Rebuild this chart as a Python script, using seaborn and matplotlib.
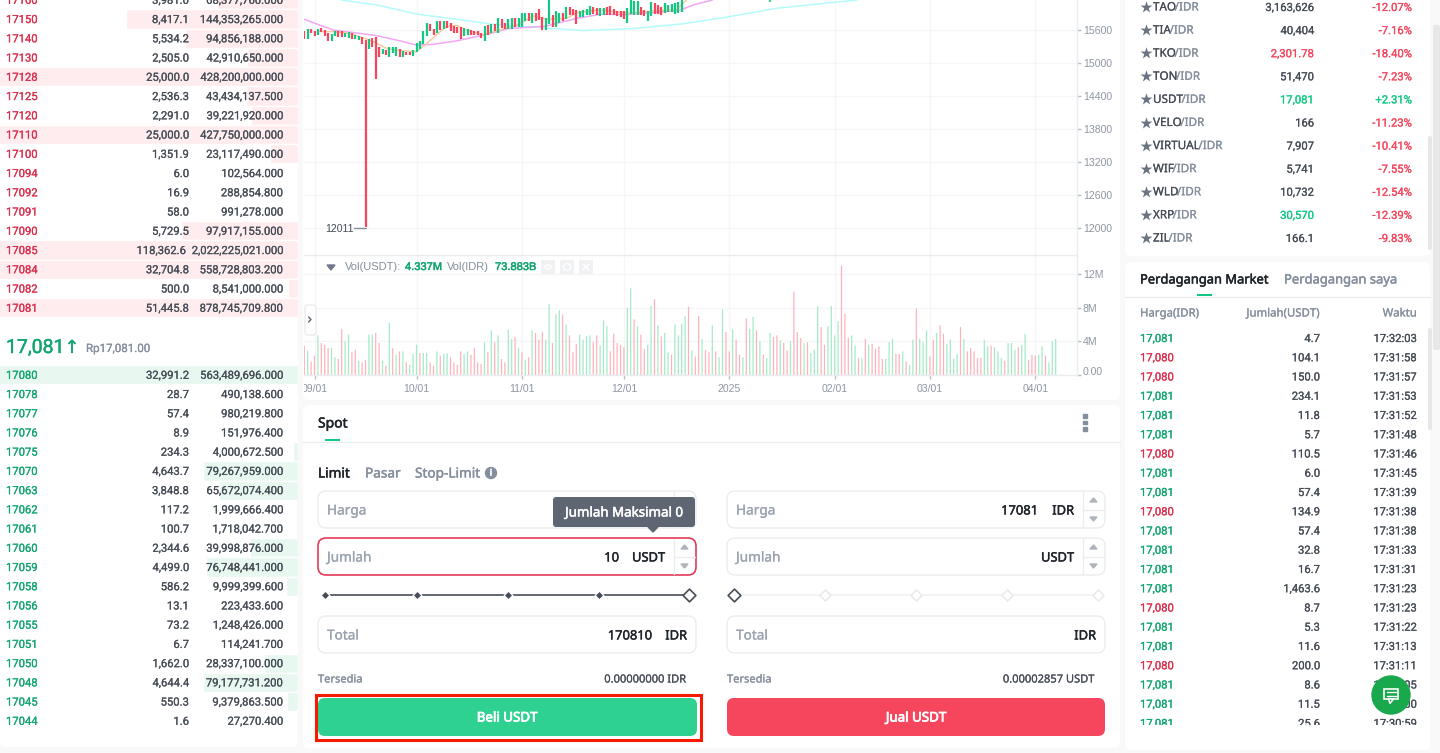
import matplotlib
matplotlib.use("Agg")
import matplotlib.pyplot as plt
import matplotlib.patheffects as pe
from matplotlib.patches import FancyBboxPatch, Rectangle, Circle, Polygon
from matplotlib.transforms import Bbox
import pandas as pd
import seaborn as sns

W, H = 1440, 753

# --- order book ---
ask_prices = [17160, 17150, 17140, 17130, 17128, 17125, 17120, 17110, 17100, 17094, 17092, 17091, 17090, 17085, 17084, 17082, 17081]
ask_qty = [3981.0, 8417.1, 5534.2, 2505.0, 25000.0, 2536.3, 2291.0, 25000.0, 1351.9, 6.0, 16.9, 58.0, 5729.5, 118362.6, 32704.8, 500.0, 51445.8]
ask_total = ["68,377,760.000", "144,353,265.000", "94,856,188.000", "42,910,650.000", "428,200,000.000", "43,434,137.500", "39,221,920.000", "427,750,000.000", "23,117,490.000", "102,564.000", "288,854.800", "991,278.000", "97,917,155.000", "2,022,225,021.000", "558,728,803.200", "8,541,000.000", "878,745,709.800"]
bid_prices = [17080, 17078, 17077, 17076, 17075, 17070, 17063, 17062, 17061, 17060, 17059, 17058, 17056, 17055, 17051, 17050, 17048, 17045, 17044]
bid_qty = [32991.2, 28.7, 57.4, 8.9, 234.3, 4643.7, 3848.8, 117.2, 100.7, 2344.6, 4499.0, 586.2, 13.1, 73.2, 6.7, 1662.0, 4644.4, 550.3, 1.6]
bid_total = ["563,489,696.000", "490,138.600", "980,219.800", "151,976.400", "4,000,672.500", "79,267,959.000", "65,672,074.400", "1,999,666.400", "1,718,042.700", "39,998,876.000", "76,748,441.000", "9,999,399.600", "223,433.600", "1,248,426.000", "114,241.700", "28,337,100.000", "79,177,731.200", "9,379,863.500", "27,270.400"]

# --- candles (daily, day 0 = 2024-08-29), only the part inside the view ---
candle_high = [15590, 15610, 15620, 15590, 15610, 15635, 15600, 15540, 15520, 15590,
               15580, 15575, 15540, 15565, 15540, 15515, 15490, 15480, 15420, 15430,
               15455, 15465, 15295, 15250, 15235, 15295, 15285, 15295, 15260, 15225,
               15205, 15205, 15235, 15370, 15405, 15575, 15720, 15710, 15625, 15770,
               15770, 15770, 15770, 15735, 15670, 15660, 15650, 15635, 15610, 15600,
               15590, 15575, 15540, 15670, 15685, 15710, 15710, 15820, 15805, 15735,
               15795, 15820, 15820, 15820, 15915, 15915, 15915, 15905, 15915, 15990,
               15830, 15810, 16200, 15865, 15950, 15915, 15915, 16025, 16025, 15975,
               15965, 15940, 15965, 15990, 16035, 16010, 16000, 16000, 16000, 16010,
               16035, 15990, 15950, 15950, 15940, 16000, 16200, 16120, 16120, 16025,
               15965, 15950, 16110, 16085, 16060, 16025, 16085, 16060, 16075, 16085,
               16110, 16200]
candle_low = [15430, 15440, 15540, 15490, 15515, 15565, 15490, 15405, 15405, 15490,
              15480, 15480, 15480, 15455, 15440, 15430, 15420, 15345, 12011, 15250,
              15295, 14700, 15105, 15165, 15150, 15115, 15175, 15125, 15115, 15115,
              15140, 15145, 15125, 15200, 15260, 15345, 15490, 15575, 15500, 15540,
              15600, 15610, 15635, 15575, 15540, 15540, 15440, 15490, 15500, 15515,
              15500, 15500, 15455, 15405, 15515, 15540, 15590, 15540, 15635, 15610,
              15625, 15625, 15650, 15650, 15660, 15755, 15770, 15720, 15770, 15780,
              15600, 15600, 15710, 15660, 15660, 15720, 15770, 15805, 15880, 15865,
              15710, 15830, 15840, 15865, 15880, 15890, 15865, 15855, 15865, 15880,
              15880, 15865, 15855, 15830, 15805, 15735, 15890, 15865, 15865, 15880,
              15855, 15755, 15855, 15890, 15890, 15880, 15915, 15930, 15930, 15890,
              15915, 15930]
candle_side = list("rgrrgrrrgg" "rrggrggrrg" "rrrgrgggrg" "rrgggggrrg"
                   "rgrrrrrggr" "rrrgrgrgrr" "ggrgggrgrr" "rggrggrgrr"
                   "rggggrrggr" "rrrrrggggr" "rggrrrgggg" "gg")
# tip of one January candle that pokes in at the top of the view
tip_day, tip_low, tip_high = 137, 16105, 16300

# --- moving averages ---
ma_magenta_day = [0, 3.6, 8.5, 21, 28, 33, 38, 45, 54, 60, 71, 80, 87, 95, 102, 110, 114.5, 120]
ma_magenta = [15795, 15710, 15600, 15500, 15405, 15325, 15340, 15405, 15525, 15625, 15670, 15810, 15885, 15880, 15915, 15950, 16055, 16145]
ma_cyan_day = [11, 21.3, 33, 44.8, 54.6, 67.4, 82, 96.7, 111, 122, 139, 162.5]
ma_cyan = [16145, 16055, 15890, 15795, 15710, 15650, 15590, 15625, 15710, 15810, 15995, 16145]
ma_orange_day = [4.6, 8.5, 13.4, 20.3, 24.2, 28, 33, 36, 40, 41.9, 44.8, 47.7, 52.6, 57.5, 62.5, 67.4, 71.3, 77.2, 80.1, 87, 94.8, 101.7, 109.5, 112.4]
ma_orange = [15570, 15570, 15540, 15390, 15265, 15225, 15205, 15355, 15570, 15670, 15685, 15600, 15510, 15600, 15690, 15855, 15795, 15810, 15915, 15965, 15905, 15940, 15975, 16145]

# --- volume (millions of USDT, daily) ---
volume = [3.5, 2.9, 1.6, 2.3, 4.7, 3.8, 3.6, 3.2, 3.2, 2.1,
          1.9, 5.5, 4.0, 4.8, 2.7, 3.0, 1.7, 1.5, 1.8, 4.8,
          4.8, 5.0, 3.8, 1.7, 1.1, 6.2, 3.2, 2.4, 2.8, 2.8,
          1.5, 1.2, 2.5, 3.6, 2.6, 2.6, 2.6, 1.5, 1.1, 2.8,
          2.3, 2.5, 2.6, 2.1, 1.5, 1.2, 2.8, 2.5, 2.8, 2.4,
          3.2, 1.5, 1.3, 3.9, 2.7, 5.3, 3.9, 4.7, 1.9, 1.5,
          5.4, 4.3, 4.5, 3.2, 2.7, 1.8, 2.1, 5.3, 5.0, 4.2,
          5.1, 4.2, 8.4, 3.8, 7.2, 7.7, 7.2, 6.0, 4.7, 2.7,
          3.7, 4.8, 4.2, 4.6, 4.7, 3.9, 4.7, 3.5, 6.5, 5.8,
          2.8, 4.9, 3.8, 3.6, 3.3, 8.0, 10.3, 6.6, 5.8, 4.8,
          3.1, 3.6, 8.2, 9.0, 5.9, 4.6, 5.0, 2.7, 2.4, 6.0,
          4.7, 6.1, 7.0, 8.1, 2.9, 2.2, 7.0,
          4.3, 3.0, 2.7, 5.9, 2.8, 2.1, 7.8, 5.1, 2.8, 5.4,
          4.2, 2.4, 2.1, 6.7, 5.5, 6.9, 5.3, 4.0, 2.4, 2.0,
          5.0, 4.5, 4.7, 4.1, 3.8, 2.9, 4.0, 9.9, 5.1, 4.4,
          3.8, 3.9, 2.6, 3.0, 8.2, 5.7, 3.6, 5.8, 8.2, 4.7,
          6.4, 13.0, 7.3, 4.4, 4.7, 3.5, 2.0, 2.0, 4.3, 3.6,
          3.7, 3.1, 3.4, 1.9, 1.9, 3.9, 4.3, 2.5, 2.5, 2.8,
          1.6, 1.2, 4.2, 7.9, 4.3, 3.9, 5.3, 2.2, 4.2, 5.0,
          5.9, 4.9, 3.7, 4.2, 1.9, 2.5, 5.7, 4.3, 2.8, 3.2,
          2.8, 2.0, 2.0, 4.2, 3.4, 3.5, 3.3, 2.8, 2.0, 1.7,
          3.8, 3.8, 3.0, 3.3, 3.6, 4.9, 1.8, 2.4, 2.3, 2.4,
          3.4, 2.3, 1.5, 4.0, 4.3]
volume_side = list("rgrrgrrrgg" "rrggrrgrrg" "grrgrgrgrg" "rgggrggrrg"
                   "rggrrrrggr" "rrrgrgrgrr" "ggrgrgrgrr" "rggrggrgrr"
                   "rggggrrggg" "rrrrrggrgr" "rggrgrggrg" "gggrgrr"
                   "grrgrggrrg" "rrgrggrgrg" "grrgrrgrrr" "grgggrrggg"
                   "grrrggrgrg" "rrrrgggrrg" "rggrgggrrg" "rrggggrgrr"
                   "rrrggrgggr" "gggrggrrrg" "grggg")

date_days = [3, 33, 64, 94, 125, 156, 184, 215]
date_labels = ["09/01", "10/01", "11/01", "12/01", "2025", "02/01", "03/01", "04/01"]
price_ticks = [12000, 12600, 13200, 13800, 14400, 15000, 15600]
price_top_tick = 16200
vol_ticks = [0, 4, 8, 12]
vol_tick_labels = ["", "4M", "8M", "12M"]

# --- market list ---
pair_base = ["TAO", "TIA", "TKO", "TON", "USDT", "VELO", "VIRTUAL", "WIF", "WLD", "XRP", "ZIL"]
pair_price = ["3,163,626", "40,404", "2,301.78", "51,470", "17,081", "166", "7,907", "5,741", "10,732", "30,570", "166.1"]
pair_price_side = ["n", "n", "r", "n", "g", "n", "n", "n", "n", "g", "n"]
pair_change = ["-12.07%", "-7.16%", "-18.40%", "-7.23%", "+2.31%", "-11.23%", "-10.41%", "-7.55%", "-12.54%", "-12.39%", "-9.83%"]

# --- trades ---
trade_price = ["17,081", "17,080", "17,080", "17,081", "17,081", "17,081", "17,080", "17,081", "17,081", "17,080", "17,081", "17,081", "17,081", "17,081", "17,080", "17,081", "17,081", "17,080", "17,081", "17,081", "17,081"]
trade_qty = ["4.7", "104.1", "150.0", "234.1", "11.8", "5.7", "110.5", "6.0", "57.4", "134.9", "57.4", "32.8", "16.7", "1,463.6", "8.7", "5.3", "11.6", "200.0", "8.6", "11.5", "25.6"]
trade_time = ["17:32:03", "17:31:58", "17:31:57", "17:31:53", "17:31:52", "17:31:48", "17:31:46", "17:31:45", "17:31:39", "17:31:38", "17:31:38", "17:31:33", "17:31:31", "17:31:23", "17:31:23", "17:31:22", "17:31:13", "17:31:11", "17:31:05", "17:31:00", "17:30:59"]

RED = "#F6465D"
GREEN = "#12C983"
BOOK_RED = "#D9304F"
BOOK_GREEN = "#12A56F"
INK = "#1E2329"
TEXT = "#474D57"
GREY = "#848E9C"
AXIS_TEXT = "#8F96A3"
LINE = "#EAECEF"
GRID = "#F6F6F8"
UI_FONT = "Noto Sans"
NUM_FONT = "Roboto"
AXIS_FONT = "Liberation Sans"


def px_axes(left, top, right, bottom, **kw):
    return fig.add_axes([left / W, 1 - bottom / H, (right - left) / W, (bottom - top) / H], **kw)


def overlay(zorder):
    ax = px_axes(0, 0, W, H, zorder=zorder)
    ax.set_xlim(0, W)
    ax.set_ylim(H, 0)
    ax.axis("off")
    ax.patch.set_visible(False)
    return ax


def box(ax, left, top, right, bottom, face="white", edge="none", radius=0, lw=1.0, **kw):
    if radius:
        style = f"round,pad=0,rounding_size={radius}"
    else:
        style = "square,pad=0"
    patch = FancyBboxPatch((left, top), right - left, bottom - top, boxstyle=style,
                           facecolor=face, edgecolor=edge, linewidth=lw, **kw)
    ax.add_patch(patch)
    return patch


def label(x, y, s, size=8.1, color=TEXT, ha="left", stroke=0.15, font=NUM_FONT, **kw):
    # the installed faces have no medium weight, a thin stroke of the text colour stands in for it
    if font == UI_FONT:
        y += 2
    elif font == NUM_FONT:
        y += 1
    t = front.text(x, y, s, fontsize=size, color=color, ha=ha, va="center", family=font, **kw)
    if stroke:
        t.set_path_effects([pe.withStroke(linewidth=stroke, foreground=color)])
    return t


def depth_axes(top, bottom, qty, color):
    ax = px_axes(0, top, 298, bottom, zorder=1)
    df = pd.DataFrame({"row": range(len(qty)), "qty": qty})
    sns.barplot(data=df, x="qty", y="row", orient="h", native_scale=True, width=1.0,
                color=color, saturation=1, ax=ax)
    ax.set_xlim(14600, 0)
    ax.set_ylim(len(qty) - 0.5, -0.5)
    ax.axis("off")
    return ax


sns.set_theme(style="white")
plt.rcParams["font.family"] = [NUM_FONT, "DejaVu Sans"]

fig = plt.figure(figsize=(W / 100, H / 100), dpi=100, facecolor="#F9F9F9")
back = overlay(0)
front = overlay(10)
renderer = fig.canvas.get_renderer()

# panels
box(back, 0, -10, 298, 747, radius=6)
box(back, 303, -10, 1120, 400, radius=6)
box(back, 303, 405, 1120, 748, radius=6)
box(back, 1125, -10, 1430, 256, radius=6)
box(back, 1125, 262, 1430, 750, radius=6)
box(back, 1433, 25, 1440, 350, face="#E8E8E8", radius=2)
box(back, 1428, 136, 1432, 250, face="#E6E6E6", radius=2)
box(back, 1428, 328, 1432, 430, face="#E6E6E6", radius=2)

# --- order book ---
row_h = 19.25
asks_ax = depth_axes(-0.2 - row_h / 2, 307.7 + row_h / 2, ask_qty, "#FFECEE")
bids_ax = depth_axes(374.8 - row_h / 2, 720.8 + row_h / 2, bid_qty, "#E8F8F1")
for i, price in enumerate(ask_prices):
    y = -0.2 + i * row_h
    qty_text = f"{ask_qty[i]:,.1f}"
    label(6, y, str(price), color=BOOK_RED)
    label(186 if len(qty_text) > 8 else 189, y, qty_text, ha="right")
    label(283, y, ask_total[i], ha="right")
for i, price in enumerate(bid_prices):
    y = 374.8 + i * (720.8 - 374.8) / 18
    label(6, y, str(price), color=BOOK_GREEN)
    label(189, y, f"{bid_qty[i]:,.1f}", ha="right")
    label(283, y, bid_total[i], ha="right")
label(6, 347, "17,081", size=14, color=BOOK_GREEN, stroke=0.3)
label(72, 348, "↑", size=13, color=BOOK_GREEN, ha="center", font="DejaVu Sans")
label(86, 347.5, "Rp17,081.00", size=8.3, color=GREY)

# --- price chart ---
chart_left = 304.3
day_px = 3.4
x_limits = ((304 - chart_left) / day_px, (1076.7 - chart_left) / day_px)
price_ax = px_axes(304, 0, 1076.7, 255.5, zorder=2)
price_ax.patch.set_visible(False)
colors = {"r": RED, "g": GREEN}
days = list(range(len(candle_high)))
price_ax.vlines(days, candle_low, candle_high, colors=[colors[s] for s in candle_side], linewidth=1.6, zorder=4, capstyle="butt")
price_ax.vlines([tip_day], [tip_low], [tip_high], colors=GREEN, linewidth=1.2, zorder=4)
sns.lineplot(x=ma_cyan_day, y=ma_cyan, color="#B5FBFB", linewidth=1.1, ax=price_ax, zorder=3)
sns.lineplot(x=ma_magenta_day, y=ma_magenta, color="#F3A6F5", linewidth=1.1, ax=price_ax, zorder=3)
sns.lineplot(x=ma_orange_day, y=ma_orange, color="#F9C79A", linewidth=1.0, ax=price_ax, zorder=3)

# --- volume chart ---
vol_ax = px_axes(304, 256, 1076.7, 375, zorder=2)
vol_ax.patch.set_visible(False)
vol_df = pd.DataFrame({"day": range(len(volume)), "vol": volume, "side": volume_side})
sns.barplot(data=vol_df, x="day", y="vol", hue="side", dodge=False, native_scale=True, width=0.36,
            palette={"r": "#FFB0BA", "g": "#A2EAC8"}, saturation=1, legend=False, ax=vol_ax)
for bar in vol_ax.patches:
    bar.set_snap(False)
    bar.set_linewidth(0)

for ax in (price_ax, vol_ax):
    ax.set_xlabel("")
    ax.set_ylabel("")
    ax.yaxis.tick_right()
    ax.set_xticks(date_days)
    ax.grid(True, color=GRID, linewidth=1.0)
    ax.set_axisbelow(True)
    for side in ("left", "top"):
        ax.spines[side].set_visible(False)
    for side in ("right", "bottom"):
        ax.spines[side].set_color(LINE)
        ax.spines[side].set_linewidth(1.0)
    ax.tick_params(axis="y", length=3, width=1, color="#B7BDC6", pad=1.5, labelsize=7.6, labelcolor=AXIS_TEXT, right=True)

price_ax.set_yticks(price_ticks)
price_ax.tick_params(axis="x", length=0, labelbottom=False)
price_ax.set_xlim(*x_limits)
price_ax.set_ylim(12000 + (228 - 255.5) * 18.18, 12000 + 228 * 18.18)
vol_ax.set_yticks(vol_ticks)
vol_ax.set_yticklabels(vol_tick_labels)
vol_ax.set_xticklabels(date_labels)
vol_ax.tick_params(axis="x", length=3, width=1, color="#B7BDC6", pad=3.5, labelsize=7.6, labelcolor=AXIS_TEXT, bottom=True)
vol_ax.set_xlim(*x_limits)
vol_ax.set_ylim(0, 119 / 8.42)
for tick in vol_ax.get_xticklabels():
    tick.set_family(AXIS_FONT)
    tick.set_clip_box(Bbox([[304, 0], [1120, H]]))
    tick.set_clip_on(True)
for ax in (price_ax, vol_ax):
    for tick in ax.get_yticklabels():
        tick.set_family(AXIS_FONT)
label(1083, -3, str(price_top_tick), size=7.6, color=AXIS_TEXT, font=AXIS_FONT, stroke=0)
label(1083, 371.5, "0.00", size=7.6, color=AXIS_TEXT, font=AXIS_FONT, stroke=0)

# chart annotations
front.plot([354, 366], [228, 228], color="#848E9C", lw=1)
label(325, 229, "12011", size=7.6, color=TEXT, font=AXIS_FONT, stroke=0)
front.add_patch(Polygon([[327, 265], [335, 265], [331, 270]], color="#707A8A"))
label(345, 267, "Vol(USDT):", size=8, color=GREY, font=AXIS_FONT, stroke=0)
label(405, 267, "4.337M", size=8, color=BOOK_GREEN, font=AXIS_FONT, stroke=0.35)
label(447, 267, "Vol(IDR)", size=8, color=GREY, font=AXIS_FONT, stroke=0)
label(495, 267, "73.883B", size=8, color=BOOK_GREEN, font=AXIS_FONT, stroke=0.35)
for cx in (548, 567, 586):
    box(front, cx - 7, 260, cx + 7, 274, face="#F0F1F2", radius=1)
front.plot([544, 548, 552, 548, 544], [267, 264.5, 267, 269.5, 267], color="white", lw=0.9)
front.add_patch(Circle((567, 267), 3.5, facecolor="none", edgecolor="white", lw=0.9))
front.plot([583, 589], [264, 270], color="white", lw=1)
front.plot([583, 589], [270, 264], color="white", lw=1)
box(front, 305, 305, 316, 335, face="white", edge=LINE, radius=3)
front.plot([308.5, 311, 308.5], [317, 319.5, 322], color="#5E6673", lw=1)

# --- form ---
label(318, 422, "Spot", size=10, color=INK, font=UI_FONT, stroke=0.35)
box(front, 325, 439, 340, 441, face=GREEN)
front.plot([303, 1120], [442, 442], color=LINE, lw=1)
for dy in (416, 422.5, 429):
    front.add_patch(Rectangle((1083.3, dy - 1.7), 3.4, 3.4, color="#848E9C"))
label(318, 472, "Limit", size=9.8, color=INK, font=UI_FONT, stroke=0.35)
label(365, 472, "Pasar", size=9.8, color=GREY, font=UI_FONT, stroke=0.3)
label(415, 472, "Stop-Limit", size=9.8, color=GREY, font=UI_FONT, stroke=0.3)
front.add_patch(Circle((491, 473), 5.5, color="#848E9C"))
label(491, 471, "i", size=6.5, color="white", ha="center", font=UI_FONT, stroke=0.5)


def input_box(left, right, top, edge=LINE, stepper=True):
    bottom = top + 37
    box(front, left, top, right, bottom, edge=edge, radius=8, lw=1.2 if edge != LINE else 1.0)
    if stepper:
        front.plot([right - 22, right - 22], [top + 1, bottom - 1], color=LINE, lw=1)
        front.plot([right - 22, right - 1], [top + 18.5, top + 18.5], color=LINE, lw=1)
        cx = right - 11.5
        front.add_patch(Polygon([[cx - 3.5, top + 11], [cx + 3.5, top + 11], [cx, top + 7]], color="#AEB4BC"))
        front.add_patch(Polygon([[cx - 3.5, top + 26], [cx + 3.5, top + 26], [cx, top + 30]], color="#AEB4BC"))


for left, right in ((318, 696), (727, 1105)):
    input_box(left, right, 491)
    input_box(left, right, 616, stepper=False)
input_box(727, 1105, 538)
input_box(318, 696, 538, edge="#E33B57")
for left in (327, 736):
    for y, name in ((509, "Harga"), (556, "Jumlah"), (634, "Total")):
        label(left, y, name, size=9.8, color="#9AA3AF", font=UI_FONT, stroke=0.2)

for x, y, s in ((619, 556, "10"), (665, 556, "USDT"), (652, 634, "170810"), (687, 634, "IDR"),
                (1038, 509, "17081"), (1074, 509, "IDR"), (1074, 556, "USDT"), (1096, 634, "IDR")):
    label(x, y, s, size=9.3, color=INK, ha="right", font=UI_FONT, stroke=0.3)

box(front, 553, 497, 695, 527, face="#5E6673", radius=3, zorder=5)
front.add_patch(Polygon([[648, 527], [658, 527], [653, 532]], color="#5E6673", zorder=5))
label(624, 511, "Jumlah Maksimal 0", size=9.6, color="white", ha="center", font=UI_FONT, stroke=0.35, zorder=6)

front.plot([325, 689], [595, 595], color="#474D57", lw=1.2, zorder=2)
front.scatter([325, 416.5, 507.5, 598.5], [595] * 4, marker="D", s=20, color="#474D57", edgecolor="white", linewidth=0.9, zorder=3)
front.scatter([689], [595], marker="D", s=42, color="white", edgecolor="#474D57", linewidth=1.2, zorder=3)
front.plot([734, 1098], [595, 595], color="#F0F1F2", lw=1.2, zorder=2)
front.scatter([825, 916, 1007, 1098], [595] * 4, marker="D", s=32, color="white", edgecolor="#E6E8EA", linewidth=1, zorder=3)
front.scatter([734], [595], marker="D", s=42, color="white", edgecolor="#474D57", linewidth=1.2, zorder=3)

label(318, 678, "Tersedia", size=8, color=GREY, font=UI_FONT)
label(727, 678, "Tersedia", size=8, color=GREY, font=UI_FONT)
label(685, 678, "0.00000000 IDR", size=8, color=TEXT, ha="right", font=UI_FONT)
label(1094, 678, "0.00002857 USDT", size=8, color=TEXT, ha="right", font=UI_FONT)

box(front, 318, 698, 697, 736, face="#2ED190", radius=7)
label(507, 716, "Beli USDT", size=9.6, color="white", ha="center", font=UI_FONT, stroke=0.55)
box(front, 727, 698, 1105, 736, face=RED, radius=7)
label(916, 716, "Jual USDT", size=9.6, color="white", ha="center", font=UI_FONT, stroke=0.55)
front.add_patch(Rectangle((316, 695), 385, 44.5, facecolor="none", edgecolor="#F51A00", linewidth=2.2))

# --- market list ---
for i, base in enumerate(pair_base):
    y = 7 + i * 23.1
    front.scatter([1146], [y], marker="*", s=80, color="#6B7482", linewidth=0, zorder=3)
    t = label(1153, y - 1, base, size=8.4, color=TEXT, font=UI_FONT)
    end = t.get_window_extent(renderer).x1
    label(end - 1.5, y - 1, "/IDR", size=8.4, color=GREY, font=UI_FONT)
    price_color = {"n": TEXT, "r": RED, "g": GREEN}[pair_price_side[i]]
    label(1314, y, pair_price[i], color=price_color, ha="right")
    label(1412, y, pair_change[i], color=GREEN if pair_change[i].startswith("+") else RED, ha="right")

# --- trades ---
label(1140, 278, "Perdagangan Market", size=9.3, color=INK, font=UI_FONT, stroke=0.35)
label(1284, 278, "Perdagangan saya", size=9.35, color=GREY, font=UI_FONT, stroke=0.3)
box(front, 1197, 294, 1212, 296, face=GREEN)
front.plot([1125, 1430], [296.5, 296.5], color=LINE, lw=1)
label(1140, 312, "Harga(IDR)", size=8.2, color=GREY, font=UI_FONT)
label(1320, 312, "Jumlah(USDT)", size=8.2, color=GREY, ha="right", font=UI_FONT)
label(1417, 312, "Waktu", size=8.2, color=GREY, ha="right", font=UI_FONT)
clip_rect = Rectangle((1125, 300), 305, 424.5, transform=front.transData)
for i, price in enumerate(trade_price):
    y = 338 + i * 19.25
    color = BOOK_RED if price == "17,080" else BOOK_GREEN
    texts = [label(1140, y, price, color=color),
             label(1320, y, trade_qty[i], ha="right"),
             label(1417, y, trade_time[i], ha="right")]
    for t in texts:
        t.set_clip_path(clip_rect)
        t.set_clip_on(True)

front.add_patch(Circle((1391, 695), 19, color="#19A84C", zorder=6))
box(front, 1384, 688.5, 1398, 699, face="#19A84C", edge="white", lw=1.2, zorder=7)
front.add_patch(Polygon([[1388.5, 699], [1393.5, 699], [1390, 703.5]], facecolor="#19A84C", edgecolor="white", lw=1.1, zorder=7))
front.plot([1386.5, 1395.5], [692, 692], color="white", lw=1, zorder=8)
front.plot([1386.5, 1395.5], [695.5, 695.5], color="white", lw=1, zorder=8)

fig.savefig("out.png", dpi=100, facecolor=fig.get_facecolor())
